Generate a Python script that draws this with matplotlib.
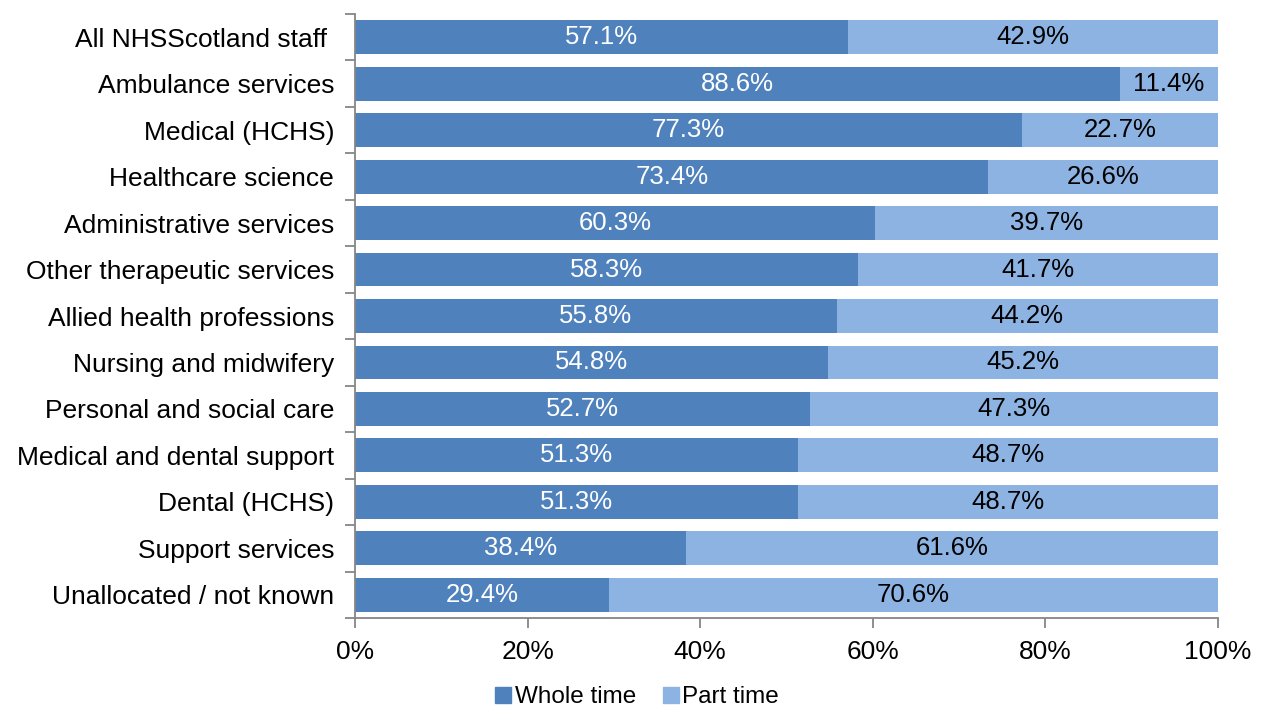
import numpy as np
import matplotlib
matplotlib.use('Agg')
import matplotlib.pyplot as plt
from matplotlib.patches import Patch

plt.rcParams['font.family'] = ['Liberation Sans', 'DejaVu Sans']

categories = ['All NHSScotland staff ', 'Ambulance services', 'Medical (HCHS)',
              'Healthcare science', 'Administrative services',
              'Other therapeutic services', 'Allied health professions',
              'Nursing and midwifery', 'Personal and social care',
              'Medical and dental support', 'Dental (HCHS)',
              'Support services', 'Unallocated / not known']
whole_time = [57.1, 88.6, 77.3, 73.4, 60.3, 58.3, 55.8, 54.8, 52.7, 51.3, 51.3, 38.4, 29.4]
part_time = [42.9, 11.4, 22.7, 26.6, 39.7, 41.7, 44.2, 45.2, 47.3, 48.7, 48.7, 61.6, 70.6]
x_ticks = [0, 20, 40, 60, 80, 100]

c_whole = '#4F81BD'
c_part = '#8DB3E2'
grey = '#868686'

fig = plt.figure(figsize=(12.62, 7.13), dpi=100)
ax = fig.add_axes([0.2813, 0.1332, 0.6838, 0.8472])

n = len(categories)
y = np.arange(n)[::-1]
h = 0.73
ax.barh(y, whole_time, height=h, color=c_whole)
ax.barh(y, part_time, left=whole_time, height=h, color=c_part)

for yi, w, p in zip(y, whole_time, part_time):
    ax.text(w / 2, yi, '%.1f%%' % w, ha='center', va='center', color='white', fontsize=18.5)
    ax.text(w + p / 2, yi, '%.1f%%' % p, ha='center', va='center', color='black', fontsize=18.5)

ax.set_xlim(0, 100)
ax.set_ylim(-0.5, n - 0.5)
ax.set_xticks(x_ticks)
ax.set_xticklabels(['%d%%' % t for t in x_ticks], fontsize=19)
ax.set_yticks(y)
ax.set_yticklabels(categories, fontsize=19)
ax.set_yticks(np.arange(n + 1) - 0.5, minor=True)
ax.tick_params(axis='y', which='major', length=0, pad=15)
ax.tick_params(axis='y', which='minor', length=7, color=grey, width=1.3)
ax.tick_params(axis='x', length=7, color=grey, width=1.3, pad=9)

for s in ['top', 'right']:
    ax.spines[s].set_visible(False)
for s in ['left', 'bottom']:
    ax.spines[s].set_color(grey)
    ax.spines[s].set_linewidth(1.3)

handles = [Patch(color=c_whole, label='Whole time'), Patch(color=c_part, label='Part time')]
fig.legend(handles=handles, loc='lower center', bbox_to_anchor=(0.505, -0.024), ncol=2,
           frameon=False, fontsize=17.5, handlelength=0.65, handleheight=0.65,
           handletextpad=0.15, columnspacing=1.1)

fig.savefig('out.png', dpi=100)
